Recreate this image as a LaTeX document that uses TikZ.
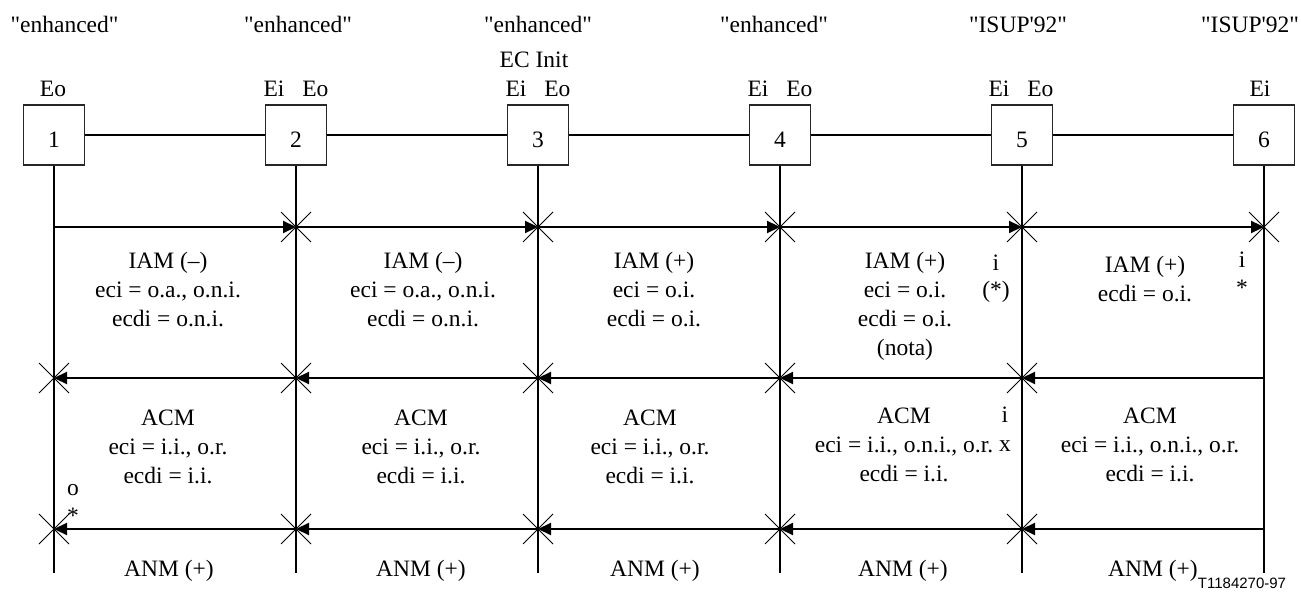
\documentclass[tikz,border=0pt]{standalone}
\usepackage{fontspec}
\setmainfont{Liberation Serif}[Ligatures=TeXOff]
\newfontfamily\figsans{Liberation Sans}
\usetikzlibrary{arrows.meta}
\begin{document}
\begin{tikzpicture}[x=1pt,y=-1pt,
  every node/.style={inner sep=0pt, font=\fontsize{23.5}{29}\selectfont},
  ent/.style={draw=black!85, line width=1.3pt, minimum width=61pt, minimum height=60pt, text height=26pt, text depth=0pt},
  life/.style={line width=2.2pt},
  msg/.style={line width=2.2pt, -{Triangle[length=13pt,width=12pt]}},
  txt/.style={anchor=base},
  xmark/.style={line width=1pt}]
\useasboundingbox (0,0) rectangle (1301,593);

% entities, lifelines and message anchor points
\foreach \i in {1,...,6} {
  \pgfmathsetmacro{\xx}{54+242*(\i-1)}
  \node[ent] (b\i) at (\xx,135) {\i};
  \coordinate (e\i) at (\xx,573);
  \coordinate (ra\i) at (\xx,227);
  \coordinate (rb\i) at (\xx,378);
  \coordinate (rc\i) at (\xx,529);
  \draw[life] (b\i.south) -- (e\i);
}
\foreach \i/\j in {1/2,2/3,3/4,4/5,5/6} {
  \draw[life] (b\i.east) -- (b\j.west);
  \draw[msg] (ra\i) -- (ra\j);
  \draw[msg] (rb\j) -- (rb\i);
  \draw[msg] (rc\j) -- (rc\i);
}
% crosses
\foreach \c in {ra2,ra3,ra4,ra5,ra6,rb1,rb2,rb3,rb4,rb5,rc1,rc2,rc3,rc4,rc5} {
  \draw[xmark] ([shift={(-15,-15)}]\c) -- ([shift={(15,15)}]\c);
  \draw[xmark] ([shift={(-15,15)}]\c) -- ([shift={(15,-15)}]\c);
}

% top labels
\node[txt] (h1) at (64.5,33) {"enhanced"};
\node[txt] (h2) at (298,33) {"enhanced"};
\node[txt] (h3) at (538,33) {"enhanced"};
\node[txt] (h4) at (774,33) {"enhanced"};
\node[txt] (h5) at (1018,33) {"ISUP'92"};
\node[txt] (h6) at (1250,33) {"ISUP'92"};
\node[txt] (ec) at (534,68) {EC Init};
\node[txt] (p1) at (53,97) {Eo};
\node[txt] (p2) at (296,97) {Ei\hspace{18pt}Eo};
\node[txt] (p3) at (538,97) {Ei\hspace{18pt}Eo};
\node[txt] (p4) at (780,97) {Ei\hspace{18pt}Eo};
\node[txt] (p5) at (1021,97) {Ei\hspace{18pt}Eo};
\node[txt] (p6) at (1260,97) {Ei};

% row 1
\node[txt] (a1l1) at (168,269) {IAM (–)};
\node[txt] (a1l2) at (168,298) {eci = o.a., o.n.i.};
\node[txt] (a1l3) at (168,327) {ecdi = o.n.i.};
\node[txt] (a2l1) at (423,269) {IAM (–)};
\node[txt] (a2l2) at (423,298) {eci = o.a., o.n.i.};
\node[txt] (a2l3) at (423,327) {ecdi = o.n.i.};
\node[txt] (a3l1) at (654,269) {IAM (+)};
\node[txt] (a3l2) at (654,298) {eci = o.i.};
\node[txt] (a3l3) at (654,327) {ecdi = o.i.};
\node[txt] (a4l1) at (905,269) {IAM (+)};
\node[txt] (a4l2) at (905,298) {eci = o.i.};
\node[txt] (a4l3) at (905,327) {ecdi = o.i.};
\node[txt] (a4l4) at (905,356) {(nota)};
\node[txt] (a4i) at (996,271) {i};
\node[txt] (a4s) at (996,298) {(*)};
\node[txt] (a5l1) at (1145,273) {IAM (+)};
\node[txt] (a5l2) at (1145,302) {ecdi = o.i.};
\node[txt] (a5i) at (1242,268) {i};
\node[txt] (a5s) at (1242,296) {*};

% row 2
\node[txt] (c1l1) at (168,425) {ACM};
\node[txt] (c1l2) at (168,454) {eci = i.i., o.r.};
\node[txt] (c1l3) at (168,483) {ecdi = i.i.};
\node[txt] (c2l1) at (421,425) {ACM};
\node[txt] (c2l2) at (421,454) {eci = i.i., o.r.};
\node[txt] (c2l3) at (421,483) {ecdi = i.i.};
\node[txt] (c3l1) at (650,425) {ACM};
\node[txt] (c3l2) at (650,454) {eci = i.i., o.r.};
\node[txt] (c3l3) at (650,483) {ecdi = i.i.};
\node[txt] (c4l1) at (904,423) {ACM};
\node[txt] (c4l2) at (904,452) {eci = i.i., o.n.i., o.r.};
\node[txt] (c4l3) at (904,481) {ecdi = i.i.};
\node[txt] (c4i) at (1005,422) {i};
\node[txt] (c4x) at (1005,451) {x};
\node[txt] (c5l1) at (1150,423) {ACM};
\node[txt] (c5l2) at (1150,452) {eci = i.i., o.n.i., o.r.};
\node[txt] (c5l3) at (1150,481) {ecdi = i.i.};
\node[txt] (c1o) at (73,495) {o};
\node[txt] (c1s) at (73,523) {*};

% row 3
\node[txt] (n1) at (169,576) {ANM (+)};
\node[txt] (n2) at (421,576) {ANM (+)};
\node[txt] (n3) at (655,576) {ANM (+)};
\node[txt] (n4) at (903,576) {ANM (+)};
\node[txt] (n5) at (1153,576) {ANM (+)};

\node[txt, font=\figsans\fontsize{15}{18}\selectfont] (ref) at (1242,588) {T1184270-97};
\end{tikzpicture}
\end{document}
